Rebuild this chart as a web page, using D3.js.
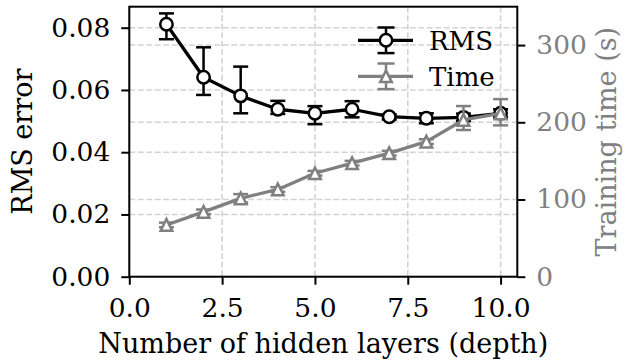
<!DOCTYPE html>
<html>
<head>
<meta charset="utf-8">
<script src="https://cdn.jsdelivr.net/npm/d3@7/dist/d3.min.js"></script>
<style>
  html, body { margin: 0; padding: 0; background: #fff; }
  svg text { font-family: "DejaVu Serif", serif; }
</style>
</head>
<body>
<svg id="chart" width="635" height="364"></svg>
<script>
// Network depth sweep: RMS error (left axis) and training time (right axis)
const depths = [1, 2, 3, 4, 5, 6, 7, 8, 9, 10];
const rmsMean = [0.0811, 0.0641, 0.0581, 0.0538, 0.0525, 0.0538, 0.0514, 0.0509, 0.0512, 0.0525];
const rmsLow  = [0.0763, 0.0584, 0.0525, 0.0523, 0.0490, 0.0512, 0.0505, 0.0493, 0.0500, 0.0512];
const rmsHigh = [0.0846, 0.0737, 0.0675, 0.0565, 0.0548, 0.0564, 0.0522, 0.0525, 0.0524, 0.0538];
const timeMean = [67, 84, 101.5, 113, 134, 147, 160, 175, 203, 211.6];
const timeLow  = [64, 81, 96, 110, 131, 144, 157, 172, 190, 196];
const timeHigh = [70, 87, 107, 116, 137, 150, 163, 178, 221, 230];
const xTicks = [0, 2.5, 5, 7.5, 10];
const leftTicks = [0, 0.02, 0.04, 0.06, 0.08];
const rightTicks = [0, 100, 200, 300];

const svg = d3.select("#chart");
const m = { left: 129.3, right: 517.3, top: 6.7, bottom: 276.7 };
const W = m.right - m.left, H = m.bottom - m.top;

const x = d3.scaleLinear().domain([0, 10.45]).range([m.left, m.right]);
const yL = d3.scaleLinear().domain([0, 0.08675]).range([m.bottom, m.top]);
const yR = d3.scaleLinear().domain([0, 349.7]).range([m.bottom, m.top]);

const gray = "#808080";
const gridColor = "#d3d3d3";
const grid = svg.append("g").attr("stroke", gridColor).attr("stroke-width", 1.6)
  .attr("stroke-dasharray", "5.9,2.6").attr("fill", "none");
xTicks.forEach(t => grid.append("line").attr("x1", x(t)).attr("x2", x(t)).attr("y1", m.top).attr("y2", m.bottom));
leftTicks.forEach(t => grid.append("line").attr("x1", m.left).attr("x2", m.right).attr("y1", yL(t)).attr("y2", yL(t)));
rightTicks.forEach(t => grid.append("line").attr("x1", m.left).attr("x2", m.right).attr("y1", yR(t)).attr("y2", yR(t)));

const tickFs = 26.5, labelFs = 27, legendFs = 26;
function styleAxis(g, color) {
  g.select(".domain").remove();
  g.selectAll(".tick line").attr("stroke", "#000").attr("stroke-width", 2);
  g.selectAll(".tick text").attr("fill", color).attr("font-size", tickFs).attr("font-family", "DejaVu Serif");
}
svg.append("g").attr("transform", `translate(0,${m.bottom})`)
  .call(d3.axisBottom(x).tickValues(xTicks).tickFormat(d3.format(".1f")).tickSize(8).tickPadding(13))
  .call(g => styleAxis(g, "#000"));
svg.append("g").attr("transform", `translate(${m.left},0)`)
  .call(d3.axisLeft(yL).tickValues(leftTicks).tickFormat(d3.format(".2f")).tickSize(8).tickPadding(11))
  .call(g => styleAxis(g, "#000"));
svg.append("g").attr("transform", `translate(${m.right},0)`)
  .call(d3.axisRight(yR).tickValues(rightTicks).tickFormat(d3.format("d")).tickSize(8).tickPadding(11))
  .call(g => styleAxis(g, gray));

// frame
svg.append("rect").attr("x", m.left).attr("y", m.top).attr("width", W).attr("height", H)
  .attr("fill", "none").attr("stroke", "#000").attr("stroke-width", 2);

// axis labels
svg.append("text").attr("x", (m.left + m.right) / 2).attr("y", 353).attr("text-anchor", "middle")
  .attr("font-size", labelFs).text("Number of hidden layers (depth)");
svg.append("text").attr("transform", `translate(31.7,${(m.top + m.bottom) / 2}) rotate(-90)`)
  .attr("text-anchor", "middle").attr("font-size", labelFs).text("RMS error");
svg.append("text").attr("transform", `translate(616.4,${(m.top + m.bottom) / 2}) rotate(-90)`)
  .attr("text-anchor", "middle").attr("font-size", labelFs).attr("fill", gray).text("Training time (s)");

const capW = 7.5;
function errorBar(g, cx, y1, y2, color, cw) {
  g.append("line").attr("x1", cx).attr("x2", cx).attr("y1", y1).attr("y2", y2)
    .attr("stroke", color).attr("stroke-width", 2.5);
  [y1, y2].forEach(v => g.append("line").attr("x1", cx - cw).attr("x2", cx + cw)
    .attr("y1", v).attr("y2", v).attr("stroke", color).attr("stroke-width", 2.5));
}
function drawMarker(g, cx, cy, color, marker) {
  if (marker === "circle") {
    g.append("circle").attr("cx", cx).attr("cy", cy).attr("r", 6.2)
      .attr("fill", "#fff").attr("stroke", color).attr("stroke-width", 2.5);
  } else {
    const s = 5.8;
    g.append("path").attr("d", `M${cx},${cy - s}L${cx - s},${cy + s}L${cx + s},${cy + s}Z`)
      .attr("fill", "#fff").attr("stroke", color).attr("stroke-width", 2.5).attr("stroke-linejoin", "miter");
  }
}
function drawSeries(yScale, mean, low, high, color, marker) {
  const g = svg.append("g");
  const line = d3.line().x((d, i) => x(depths[i])).y(d => yScale(d));
  depths.forEach((d, i) => errorBar(g, x(d), yScale(low[i]), yScale(high[i]), color, capW));
  g.append("path").datum(mean).attr("d", line).attr("fill", "none")
    .attr("stroke", color).attr("stroke-width", 3.3).attr("stroke-linejoin", "round");
  mean.forEach((v, i) => drawMarker(g, x(depths[i]), yScale(v), color, marker));
}
drawSeries(yL, rmsMean, rmsLow, rmsHigh, "#000", "circle");
drawSeries(yR, timeMean, timeLow, timeHigh, gray, "triangle");

// legend (no frame)
const legend = [{ label: "RMS", color: "#000", marker: "circle", y: 40.3 },
                { label: "Time", color: gray, marker: "triangle", y: 76.3 }];
legend.forEach(e => {
  const g = svg.append("g");
  g.append("line").attr("x1", 358).attr("x2", 413).attr("y1", e.y).attr("y2", e.y)
    .attr("stroke", e.color).attr("stroke-width", 3.3);
  errorBar(g, 386, e.y - 12.8, e.y + 12.8, e.color, 8.5);
  drawMarker(g, 386, e.y, e.color, e.marker);
  g.append("text").attr("x", 429).attr("y", e.y).attr("dy", "0.36em").attr("font-size", legendFs).text(e.label);
});
</script>
</body>
</html>
